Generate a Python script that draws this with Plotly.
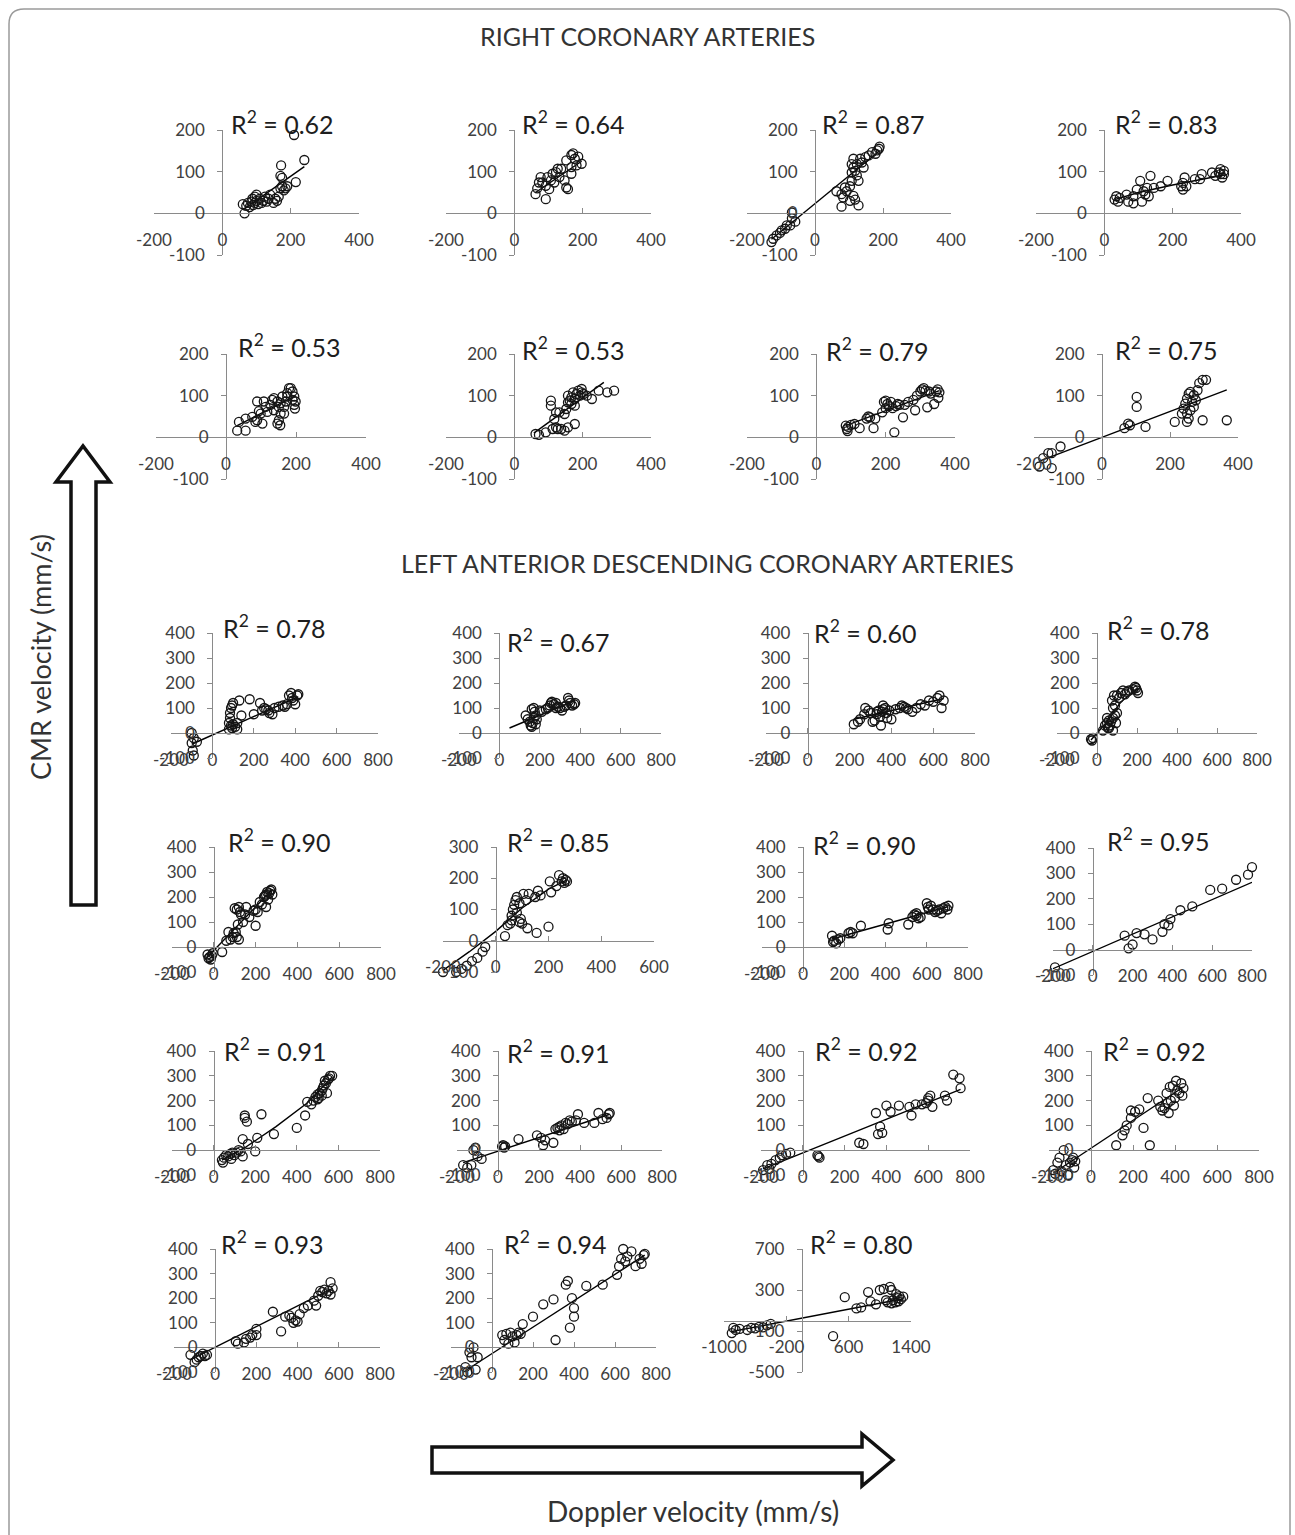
import plotly.graph_objects as go

W, H = 1295, 1535
FONT = "Lato"

# ---------------- data ----------------
r2_labels = ["0.62", "0.64", "0.87", "0.83", "0.53", "0.53", "0.79", "0.75",
             "0.78", "0.67", "0.60", "0.78", "0.90", "0.85", "0.90", "0.95",
             "0.91", "0.91", "0.92", "0.92", "0.93", "0.94", "0.80"]

rca_xticks = [-200, 0, 200, 400]
rca_yticks = [-100, 0, 100, 200]
lad_xticks = [-200, 0, 200, 400, 600, 800]
lad_yticks = [-100, 0, 100, 200, 300, 400]
lad14_xticks = [-200, 0, 200, 400, 600]
lad14_yticks = [-100, 0, 100, 200, 300]
lad23_xticks = [-1000, -200, 600, 1400]
lad23_yticks = [-500, -100, 300, 700]

rca1_x = [65, 60, 70, 75, 80, 85, 90, 95, 100, 105, 110, 115, 120, 125, 130, 135, 150, 160, 165, 170,
          170, 172, 175, 180, 185, 190, 215, 210, 240, 100, 140, 175, 95, 88, 155]
rca1_y = [0, 22, 18, 25, 15, 28, 20, 40, 30, 22, 35, 25, 30, 40, 28, 35, 25, 30, 40, 60,
          90, 115, 65, 55, 60, 65, 75, 188, 128, 45, 45, 85, 25, 35, 35]
rca1_fit_x = [60, 240]
rca1_fit_y = [8, 112]

rca2_x = [62, 67, 77, 92, 92, 102, 107, 117, 122, 132, 137, 147, 152, 157, 152, 167, 172, 177, 182, 197,
          167, 167, 97, 82, 72, 112, 127, 187]
rca2_y = [46, 60, 87, 66, 34, 58, 79, 74, 99, 87, 107, 79, 62, 58, 127, 140, 144, 131, 115, 119,
          95, 111, 87, 74, 74, 95, 107, 136]
rca2_fit_x = [62, 197]
rca2_fit_y = [50, 125]

rca3_x = [-128, -123, -113, -98, -83, -68, -68, -58, -103, -88, -73, 63, 78, 83, 88, 93, 78, 103, 113, 118,
          128, 103, 108, 108, 108, 113, 113, 118, 123, 128, 123, 138, 148, 158, 168, 178, 188, 190, 143, 133, 183]
rca3_y = [-69, -61, -53, -41, -29, -12, 2, -20, -47, -37, -29, 53, 46, 38, 62, 53, 16, 30, 42, 33,
          19, 65, 78, 98, 118, 131, 110, 102, 91, 78, 118, 122, 135, 139, 147, 143, 155, 160, 110, 131, 151]
rca3_fit_x = [-128, 190]
rca3_fit_y = [-62, 150]

rca4_x = [30, 35, 40, 45, 65, 70, 85, 85, 95, 105, 110, 115, 120, 125, 135, 130, 145, 165, 185, 225,
          230, 235, 230, 240, 265, 280, 285, 315, 325, 335, 340, 345, 350, 350, 340]
rca4_y = [33, 41, 28, 37, 45, 28, 41, 24, 57, 78, 28, 53, 45, 61, 90, 41, 61, 65, 78, 65,
          73, 86, 57, 65, 82, 82, 94, 98, 90, 98, 106, 86, 102, 94, 94]
rca4_fit_x = [30, 100, 200, 280, 350]
rca4_fit_y = [33, 50, 68, 80, 92]

rca5_x = [32, 37, 56, 56, 75, 84, 89, 94, 89, 104, 99, 113, 108, 118, 127, 132, 137, 151, 156, 147,
          151, 156, 166, 171, 175, 180, 185, 190, 195, 195, 197, 199, 190, 175, 161, 147, 137, 166, 155]
rca5_y = [16, 37, 16, 45, 49, 37, 41, 63, 86, 33, 57, 73, 86, 61, 78, 90, 94, 73, 82, 33,
          41, 57, 73, 86, 106, 118, 118, 110, 98, 78, 69, 86, 90, 98, 98, 86, 65, 57, 29]
rca5_fit_x = [32, 199]
rca5_fit_y = [28, 100]

rca6_x = [62, 72, 92, 112, 122, 127, 137, 147, 157, 177, 117, 122, 132, 107, 107, 152, 157, 157, 162, 167,
          172, 177, 182, 187, 192, 197, 197, 202, 212, 227, 247, 272, 292, 167, 177, 147]
rca6_y = [8, 6, 12, 20, 24, 20, 20, 16, 24, 32, 44, 60, 60, 88, 76, 68, 84, 100, 88, 96,
          108, 92, 104, 112, 100, 108, 116, 104, 100, 92, 112, 108, 112, 80, 76, 56]
rca6_fit_x = [57, 262]
rca6_fit_y = [10, 132]

rca7_x = [85, 88, 90, 92, 100, 110, 125, 145, 150, 155, 165, 170, 190, 195, 200, 205, 210, 215, 220, 225,
          230, 235, 250, 255, 265, 280, 285, 290, 300, 305, 310, 315, 320, 325, 330, 340, 345, 350, 355, 352,
          200, 240]
rca7_y = [28, 20, 15, 25, 30, 32, 22, 45, 50, 48, 22, 45, 60, 85, 88, 80, 75, 85, 70, 12,
          75, 80, 48, 78, 85, 90, 65, 100, 110, 115, 118, 112, 72, 110, 105, 80, 110, 115, 108, 95,
          70, 78]
rca7_fit_x = [85, 355]
rca7_fit_y = [28, 112]

rca8_x = [-184, -148, -173, -158, -148, -122, 66, 77, 82, 102, 102, 128, 214, 235, 240, 245, 250, 255, 250, 255,
          260, 265, 270, 270, 276, 281, 286, 296, 306, 296, 367, 260, 250]
rca8_y = [-70, -74, -50, -38, -38, -22, 22, 33, 29, 73, 97, 25, 37, 57, 69, 81, 93, 105, 57, 45,
          65, 85, 101, 73, 89, 113, 130, 138, 138, 41, 41, 109, 37]
rca8_fit_x = [-184, 367]
rca8_fit_y = [-57, 114]

lad9_x = [-100, -95, -90, -100, -90, -100, -75, 80, 80, 85, 85, 90, 95, 100, 90, 95, 100, 110, 120, 130,
          140, 120, 200, 180, 230, 240, 250, 260, 270, 275, 290, 300, 320, 340, 360, 370, 380, 385, 390, 400,
          410, 415, 350]
lad9_y = [-40, -70, -90, -110, -20, 0, -35, 15, 40, 60, 80, 100, 110, 120, 30, 20, 35, 25, 40, 130,
          70, 15, 75, 135, 120, 90, 100, 95, 90, 80, 75, 100, 105, 110, 115, 150, 160, 140, 130, 115,
          150, 155, 105]
lad9_fit_x = [-100, 415]
lad9_fit_y = [-45, 145]

lad10_x = [130, 140, 150, 155, 160, 165, 170, 170, 175, 180, 180, 185, 200, 210, 230, 240, 250, 255, 260, 270,
           280, 290, 300, 310, 320, 330, 340, 345, 350, 360, 370, 375, 160, 280]
lad10_y = [70, 55, 45, 30, 25, 40, 60, 100, 85, 35, 70, 55, 90, 85, 95, 100, 110, 120, 125, 115,
           120, 105, 100, 90, 105, 110, 140, 130, 120, 110, 115, 120, 95, 100]
lad10_fit_x = [50, 375]
lad10_fit_y = [20, 130]

lad11_x = [220, 240, 250, 270, 275, 290, 300, 310, 320, 330, 340, 345, 350, 355, 360, 370, 375, 380, 390, 400,
           420, 440, 450, 460, 470, 480, 500, 520, 540, 560, 580, 600, 620, 630, 640, 650, 360, 330]
lad11_y = [35, 45, 55, 75, 100, 90, 80, 45, 50, 75, 90, 65, 30, 85, 110, 100, 80, 60, 90, 55,
           95, 100, 110, 105, 100, 95, 85, 100, 115, 110, 130, 125, 140, 150, 100, 130, 95, 85]
lad11_fit_x = [220, 650]
lad11_fit_y = [55, 138]

lad12_x = [-30, -25, -20, 30, 40, 50, 50, 55, 60, 65, 70, 75, 80, 80, 85, 90, 90, 95, 100, 100,
           110, 120, 130, 140, 150, 160, 180, 190, 195, 200, 205, 60, 80]
lad12_y = [-25, -30, -20, 10, 30, 40, 60, 20, 50, 30, 45, 130, 100, 10, 150, 70, 110, 40, 80, 150,
           140, 160, 170, 155, 165, 170, 175, 185, 180, 170, 160, 20, 60]
lad12_fit_x = [-30, 50, 120, 205]
lad12_fit_y = [-28, 45, 125, 178]

lad13_x = [-30, -25, -20, -15, -10, -5, 40, 60, 70, 80, 90, 95, 100, 105, 110, 110, 115, 120, 120, 125,
           130, 140, 150, 155, 170, 190, 200, 200, 210, 220, 230, 240, 250, 255, 260, 265, 270, 275, 280, 245,
           250]
lad13_y = [-30, -45, -40, -50, -35, -25, -20, 25, 60, 30, 40, 55, 155, 60, 40, 150, 90, 30, 160, 140,
           130, 100, 130, 160, 120, 145, 85, 150, 140, 180, 170, 200, 210, 220, 190, 215, 225, 230, 210, 205,
           160]
lad13_fit_x = [-30, 280]
lad13_fit_y = [-40, 230]

lad14_x = [-200, -185, -170, -150, -130, -110, -90, -70, -50, -40, 35, 45, 55, 60, 65, 70, 75, 80, 90, 90,
           95, 100, 105, 115, 120, 125, 150, 155, 160, 170, 200, 205, 210, 230, 240, 250, 255, 260, 265, 270,
           80, 60]
lad14_y = [-100, -110, -105, -100, -90, -80, -65, -55, -35, -20, 15, 50, 55, 80, 100, 115, 130, 140, 120, 60,
           70, 55, 150, 130, 40, 150, 140, 25, 160, 145, 45, 190, 155, 175, 210, 190, 200, 185, 195, 190,
           90, 65]
lad14_fit_x = [-200, -100, 0, 100, 200, 270]
lad14_fit_y = [-95, -35, 30, 105, 165, 195]

lad15_x = [140, 145, 150, 160, 170, 180, 220, 230, 240, 280, 410, 415, 510, 530, 540, 550, 560, 570, 600, 605,
           610, 620, 630, 640, 650, 660, 670, 680, 690, 700, 705, 550]
lad15_y = [45, 20, 25, 15, 30, 35, 55, 60, 55, 85, 70, 95, 90, 120, 130, 125, 115, 120, 175, 160,
           150, 165, 150, 140, 145, 150, 135, 155, 160, 150, 165, 135]
lad15_fit_x = [140, 705]
lad15_fit_y = [32, 162]

lad16_x = [-190, 160, 180, 200, 220, 260, 300, 350, 360, 380, 390, 440, 500, 590, 650, 720, 780, 800]
lad16_y = [-70, 55, 5, 20, 65, 60, 40, 70, 100, 95, 120, 155, 170, 235, 240, 275, 295, 325]
lad16_fit_x = [-200, 800]
lad16_fit_y = [-75, 265]

lad17_x = [40, 45, 50, 60, 70, 80, 85, 90, 100, 110, 120, 130, 140, 140, 150, 150, 160, 165, 200, 210,
           230, 290, 400, 440, 450, 470, 480, 490, 500, 505, 510, 520, 525, 530, 535, 540, 545, 550, 555, 560,
           570, 500, 520]
lad17_y = [-40, -50, -30, -20, -25, -15, -35, -10, -20, -10, 0, -5, -25, 45, 130, 140, 115, 25, -5, 50,
           145, 65, 90, 140, 195, 185, 200, 215, 225, 210, 230, 240, 250, 260, 280, 270, 230, 285, 290, 300,
           300, 205, 220]
lad17_fit_x = [40, 150, 300, 450, 570]
lad17_fit_y = [-40, 10, 95, 190, 295]

lad18_x = [-170, -150, -130, -120, -110, -100, -80, 20, 25, 30, 35, 100, 190, 210, 220, 230, 270, 280, 290, 300,
           310, 320, 330, 340, 350, 360, 380, 390, 420, 470, 490, 510, 530, 540, 545, 300]
lad18_y = [-60, -70, -60, 0, 10, -25, -35, 15, 20, 10, 15, 45, 60, 50, 20, 40, 30, 85, 90, 95,
           100, 85, 110, 105, 120, 115, 120, 145, 110, 110, 150, 125, 130, 145, 150, 80]
lad18_fit_x = [-170, 545]
lad18_fit_y = [-50, 145]

lad19_x = [-190, -170, -160, -150, -130, -110, -100, -80, -60, 70, 75, 80, 270, 290, 350, 360, 370, 380, 400, 420,
           460, 510, 520, 540, 570, 590, 600, 610, 620, 680, 690, 720, 750, 755, 600]
lad19_y = [-80, -60, -75, -55, -40, -30, -20, -15, -10, -20, -25, -30, 30, 25, 150, 65, 95, 70, 180, 155,
           180, 175, 140, 185, 185, 190, 200, 220, 175, 220, 200, 305, 290, 250, 210]
lad19_fit_x = [-190, 755]
lad19_fit_y = [-75, 245]

lad20_x = [-180, -170, -160, -150, -140, -130, -120, -110, -100, -90, -85, -80, -75, 120, 150, 160, 170, 190, 190, 210,
           230, 250, 270, 280, 320, 330, 340, 350, 360, 365, 370, 375, 380, 390, 395, 400, 405, 410, 420, 430,
           435, 440]
lad20_y = [-80, -95, -50, -30, -85, 0, -60, -100, -50, -40, -30, -70, -45, 20, 60, 80, 100, 130, 160, 155,
           165, 90, 210, 20, 200, 175, 160, 170, 230, 190, 150, 255, 200, 260, 180, 210, 280, 240, 230, 270,
           220, 250]
lad20_fit_x = [-180, 440]
lad20_fit_y = [-93, 255]

lad21_x = [-120, -100, -90, -80, -70, -60, -50, -40, 100, 110, 140, 150, 170, 180, 200, 200, 280, 320, 340, 360,
           370, 380, 390, 400, 410, 430, 450, 480, 490, 500, 510, 530, 540, 550, 560, 560, 570, 520]
lad21_y = [-30, -60, -50, -40, -35, -25, -35, -30, 25, 15, 20, 35, 40, 50, 75, 50, 145, 65, 125, 130,
           120, 100, 110, 105, 135, 160, 170, 190, 170, 210, 230, 235, 220, 230, 265, 215, 240, 225]
lad21_fit_x = [-120, 570]
lad21_fit_y = [-50, 240]

lad22_x = [-130, -120, -110, -100, -100, -90, -80, -70, 50, 60, 70, 80, 90, 100, 110, 120, 130, 140, 150, 200,
           250, 300, 310, 360, 370, 380, 390, 400, 400, 460, 540, 610, 620, 630, 640, 650, 660, 680, 700, 720,
           730, 740, 745]
lad22_y = [-80, -100, -20, -110, -40, 0, -90, -40, 50, 30, 55, 15, 60, 45, 20, 50, 60, 55, 95, 125,
           175, 195, 30, 255, 270, 80, 200, 160, 125, 250, 255, 295, 330, 360, 400, 350, 370, 390, 330, 360,
           340, 375, 380]
lad22_fit_x = [-130, 745]
lad22_fit_y = [-95, 375]

lad23_x = [-900, -880, -850, -800, -700, -650, -600, -550, -500, -450, -400, 400, 550, 700, 760, 850, 880, 950, 1000, 1050,
           1080, 1100, 1130, 1150, 1170, 1200, 1210, 1230, 1250, 1270, 1300, 1150, 1240]
lad23_y = [-120, -70, -90, -80, -90, -70, -75, -60, -65, -45, -30, -150, 230, 120, 130, 280, 190, 160, 300, 310,
           200, 180, 330, 300, 200, 180, 260, 220, 240, 210, 235, 170, 190]
lad23_fit_x = [-900, 1300]
lad23_fit_y = [-105, 215]

series = [
    (rca1_x, rca1_y, rca1_fit_x, rca1_fit_y, rca_xticks, rca_yticks),
    (rca2_x, rca2_y, rca2_fit_x, rca2_fit_y, rca_xticks, rca_yticks),
    (rca3_x, rca3_y, rca3_fit_x, rca3_fit_y, rca_xticks, rca_yticks),
    (rca4_x, rca4_y, rca4_fit_x, rca4_fit_y, rca_xticks, rca_yticks),
    (rca5_x, rca5_y, rca5_fit_x, rca5_fit_y, rca_xticks, rca_yticks),
    (rca6_x, rca6_y, rca6_fit_x, rca6_fit_y, rca_xticks, rca_yticks),
    (rca7_x, rca7_y, rca7_fit_x, rca7_fit_y, rca_xticks, rca_yticks),
    (rca8_x, rca8_y, rca8_fit_x, rca8_fit_y, rca_xticks, rca_yticks),
    (lad9_x, lad9_y, lad9_fit_x, lad9_fit_y, lad_xticks, lad_yticks),
    (lad10_x, lad10_y, lad10_fit_x, lad10_fit_y, lad_xticks, lad_yticks),
    (lad11_x, lad11_y, lad11_fit_x, lad11_fit_y, lad_xticks, lad_yticks),
    (lad12_x, lad12_y, lad12_fit_x, lad12_fit_y, lad_xticks, lad_yticks),
    (lad13_x, lad13_y, lad13_fit_x, lad13_fit_y, lad_xticks, lad_yticks),
    (lad14_x, lad14_y, lad14_fit_x, lad14_fit_y, lad14_xticks, lad14_yticks),
    (lad15_x, lad15_y, lad15_fit_x, lad15_fit_y, lad_xticks, lad_yticks),
    (lad16_x, lad16_y, lad16_fit_x, lad16_fit_y, lad_xticks, lad_yticks),
    (lad17_x, lad17_y, lad17_fit_x, lad17_fit_y, lad_xticks, lad_yticks),
    (lad18_x, lad18_y, lad18_fit_x, lad18_fit_y, lad_xticks, lad_yticks),
    (lad19_x, lad19_y, lad19_fit_x, lad19_fit_y, lad_xticks, lad_yticks),
    (lad20_x, lad20_y, lad20_fit_x, lad20_fit_y, lad_xticks, lad_yticks),
    (lad21_x, lad21_y, lad21_fit_x, lad21_fit_y, lad_xticks, lad_yticks),
    (lad22_x, lad22_y, lad22_fit_x, lad22_fit_y, lad_xticks, lad_yticks),
    (lad23_x, lad23_y, lad23_fit_x, lad23_fit_y, lad23_xticks, lad23_yticks),
]

# ---------------- layout (pixel boxes: x-left, x-right, y-top, y-bottom) ----------------
boxes = [
    (154, 359, 130, 255), (446, 651, 130, 255), (747, 951, 130, 255), (1036, 1241, 130, 255),
    (156, 366, 354, 479), (446, 651, 354, 479), (747, 955, 354, 479), (1034, 1238, 354, 479),
    (171, 378, 633, 758), (459, 661, 633, 758), (766, 975, 633, 758), (1057, 1257, 633, 758),
    (172, 381, 847, 972), (443, 654, 847, 972), (762, 968, 847, 972), (1053, 1252, 848, 975),
    (172, 380, 1051, 1175), (457, 662, 1051, 1175), (761, 970, 1051, 1175), (1049, 1259, 1051, 1175),
    (174, 380, 1249, 1372), (451, 656, 1249, 1372), (724, 911, 1249, 1372),
]
r2_pos = [
    (229, 122), (520, 122), (820, 122), (1113, 122),
    (236, 345), (520, 348), (824, 349), (1113, 348),
    (221, 626), (505, 640), (812, 631), (1105, 628),
    (226, 840), (505, 840), (811, 843), (1105, 839),
    (222, 1049), (505, 1051), (813, 1049), (1101, 1049),
    (219, 1242), (502, 1242), (808, 1242),
]

AX = "#8a8a8a"
TICK = "#404040"


def px(x):
    return x / W


def py(y):
    return 1 - y / H


fig = go.Figure()
layout = {}
annotations = []

for i, ((xs, ys, fx, fy, xt, ytk), (xl, xr, ytop, ybot), r2, (lx, ly)) in enumerate(
        zip(series, boxes, r2_labels, r2_pos)):
    n = i + 1
    sfx = "" if n == 1 else str(n)
    xname, yname = "x" + sfx, "y" + sfx
    fig.add_trace(go.Scatter(x=fx, y=fy, mode="lines", line=dict(color="black", width=1.4),
                             xaxis=xname, yaxis=yname, showlegend=False, hoverinfo="skip"))
    fig.add_trace(go.Scatter(x=xs, y=ys, mode="markers", cliponaxis=False,
                             marker=dict(symbol="circle-open", size=9, color="#151515",
                                         line=dict(width=1.3)),
                             xaxis=xname, yaxis=yname, showlegend=False))
    xmin, xmax = xt[0], xt[-1]
    ymin, ymax = ytk[0], ytk[-1]
    x0 = xl + (0 - xmin) / (xmax - xmin) * (xr - xl)
    y0 = ybot - (0 - ymin) / (ymax - ymin) * (ybot - ytop)
    common = dict(showgrid=False, zeroline=False, showline=True, linecolor=AX, linewidth=1.2,
                  tickcolor=AX, ticklen=5, tickwidth=1.2, anchor="free", fixedrange=True,
                  automargin=False,
                  tickfont=dict(family=FONT, size=17, color=TICK), tickmode="array")
    layout["xaxis" + sfx] = dict(common, domain=[px(xl), px(xr)], range=[xmin, xmax],
                                 position=py(y0), ticks="inside", tickvals=xt,
                                 ticktext=[str(v) for v in xt], ticklabelstandoff=11)
    layout["yaxis" + sfx] = dict(common, domain=[py(ybot), py(ytop)], range=[ymin, ymax],
                                 position=px(x0), ticks="outside", tickvals=ytk,
                                 ticktext=[str(v) for v in ytk], ticklabelstandoff=9)
    annotations.append(dict(text="R<sup>2</sup> = " + r2, x=px(lx), y=py(ly), xref="paper", yref="paper",
                            xanchor="left", yanchor="middle", showarrow=False,
                            font=dict(family=FONT, size=25, color="#1e1e1e")))

annotations += [
    dict(text="RIGHT CORONARY ARTERIES", x=px(647), y=py(36), xref="paper", yref="paper",
         xanchor="center", yanchor="middle",
         showarrow=False, font=dict(family=FONT, size=25, color="#333333")),
    dict(text="LEFT ANTERIOR DESCENDING CORONARY ARTERIES", x=px(707), y=py(563), xref="paper", yref="paper",
         xanchor="center", yanchor="middle",
         showarrow=False, font=dict(family=FONT, size=25, color="#333333")),
    dict(text="CMR velocity (mm/s)", x=px(40), y=py(657), xref="paper", yref="paper", textangle=-90,
         xanchor="center", yanchor="middle",
         showarrow=False, font=dict(family=FONT, size=27, color="#333333")),
    dict(text="Doppler velocity (mm/s)", x=px(693), y=py(1511), xref="paper", yref="paper",
         xanchor="center", yanchor="middle",
         showarrow=False, font=dict(family=FONT, size=28, color="#333333")),
]


def path_from(points, close=True):
    s = "M " + " L ".join(f"{px(a):.5f},{py(b):.5f}" for a, b in points)
    return s + (" Z" if close else "")


up_arrow = [(71, 905), (71, 482), (56, 482), (83, 446), (110, 482), (96, 482), (96, 905)]
right_arrow = [(432, 1447), (862, 1447), (862, 1434), (893, 1460), (862, 1486), (862, 1473), (432, 1473)]

r = 15
bx0, bx1, by0, by1 = 9, 1290, 9, 1560
border = (f"M {px(bx0)},{py(by0 + r)} Q {px(bx0)},{py(by0)} {px(bx0 + r)},{py(by0)} "
          f"L {px(bx1 - r)},{py(by0)} Q {px(bx1)},{py(by0)} {px(bx1)},{py(by0 + r)} "
          f"L {px(bx1)},{py(by1)} L {px(bx0)},{py(by1)} Z")

shapes = [
    dict(type="path", path=border, xref="paper", yref="paper", line=dict(color="#9a9a9a", width=1.5)),
    dict(type="path", path=path_from(up_arrow), xref="paper", yref="paper",
         line=dict(color="#111111", width=3.5), fillcolor="white"),
    dict(type="path", path=path_from(right_arrow), xref="paper", yref="paper",
         line=dict(color="#111111", width=3.5), fillcolor="white"),
]

fig.update_layout(width=W, height=H, margin=dict(l=0, r=0, t=0, b=0, autoexpand=False), autosize=False,
                  paper_bgcolor="white", plot_bgcolor="white", showlegend=False,
                  annotations=annotations, shapes=shapes, font=dict(family=FONT), **layout)

fig.write_html("out.html", config={"displayModeBar": False},
               post_script="document.body.style.margin='0px';document.body.style.overflow='hidden';")
